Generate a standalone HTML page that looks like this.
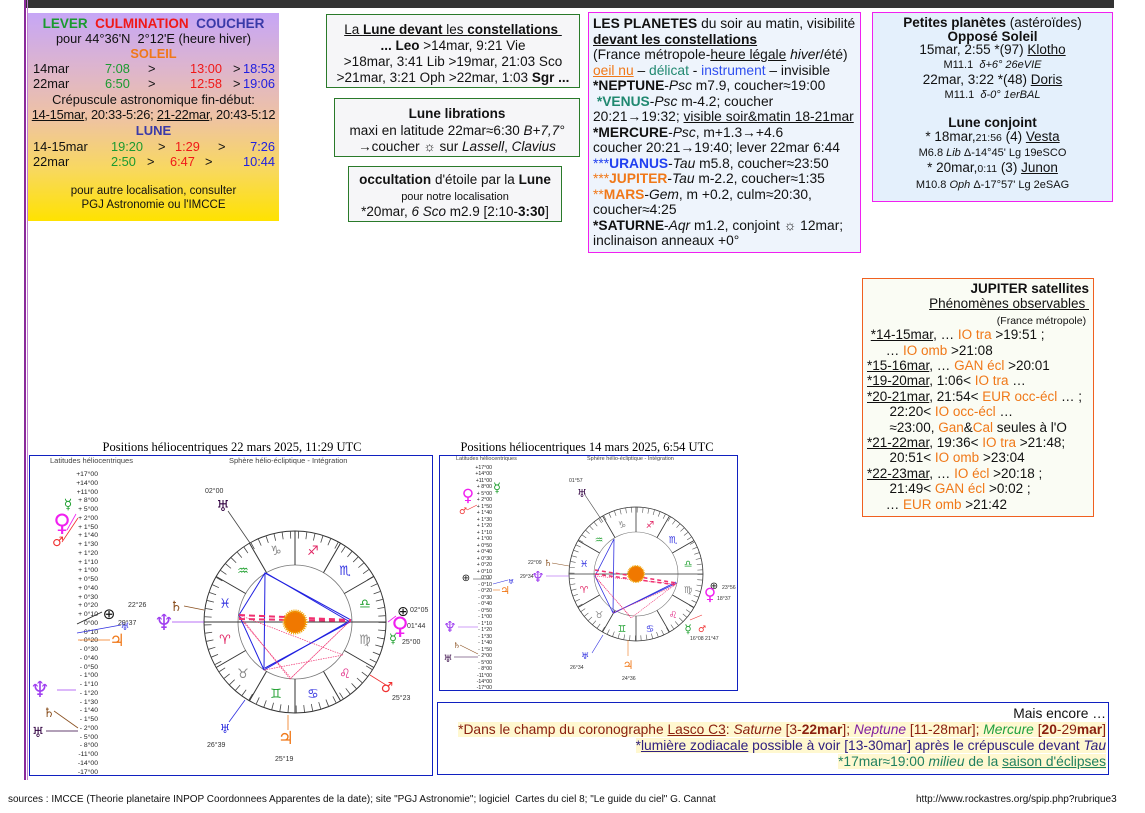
<!DOCTYPE html>
<html><head><meta charset="utf-8">
<style>
*{margin:0;padding:0;box-sizing:border-box}
body{width:1145px;height:813px;background:#fff;position:relative;overflow:hidden;font-family:"Liberation Sans","DejaVu Sans",sans-serif;color:#111}
.a{position:absolute}
.box{position:absolute}
.c{text-align:center}
b{font-weight:bold}
u{text-decoration:underline}
.or{color:#f07818}.gr{color:#1a9a30}.rd{color:#f01818}.bl{color:#2020e0}.pu{color:#3a3aa8}.tl{color:#208870}
.row{position:absolute;left:5px;right:4px;height:15px;font-size:12.8px}
.row span{position:absolute}
</style></head><body>
<div class="a" style="left:25px;top:0;width:1089px;height:8px;background:#333"></div>
<div class="a" style="left:24px;top:0;width:2px;height:780px;background:#8a2a9a"></div>
<div class="a" style="left:27px;top:0;width:1px;height:780px;background:#c080d0"></div>

<div class="box" style="left:28px;top:13px;width:251px;height:208px;background:linear-gradient(#c6a6f6 0%,#dcb4d0 25%,#eec2a4 50%,#f8d860 75%,#ffe200 100%)">
 <div class="a c" style="top:3px;left:0;width:251px;font-size:13.5px;font-weight:bold"><span class="gr">LEVER</span>&nbsp;&nbsp;<span class="rd">CULMINATION</span>&nbsp;&nbsp;<span class="pu">COUCHER</span></div>
 <div class="a c" style="top:18px;left:0;width:251px;font-size:12.8px">pour 44°36'N&nbsp; 2°12'E (heure hiver)</div>
 <div class="a c or" style="top:33px;left:0;width:251px;font-size:12.8px;font-weight:bold">SOLEIL</div>
 <div class="row" style="top:48px"><span style="left:0">14mar</span><span class="gr" style="left:72px">7:08</span><span style="left:115px">&gt;</span><span class="rd" style="left:157px">13:00</span><span style="left:200px">&gt;</span><span class="bl" style="right:0">18:53</span></div>
 <div class="row" style="top:63px"><span style="left:0">22mar</span><span class="gr" style="left:72px">6:50</span><span style="left:115px">&gt;</span><span class="rd" style="left:157px">12:58</span><span style="left:200px">&gt;</span><span class="bl" style="right:0">19:06</span></div>
 <div class="a c" style="top:79px;left:0;width:251px;font-size:12.8px">Crépuscule astronomique fin-début:</div>
 <div class="a c" style="top:94px;left:0;width:251px;font-size:12.8px;white-space:nowrap;letter-spacing:-0.2px"><u>14-15mar</u>, 20:33-5:26; <u>21-22mar</u>, 20:43-5:12</div>
 <div class="a c pu" style="top:110px;left:0;width:251px;font-size:13px;font-weight:bold">LUNE</div>
 <div class="row" style="top:126px"><span style="left:0">14-15mar</span><span class="gr" style="left:78px">19:20</span><span style="left:125px">&gt;</span><span class="rd" style="left:142px">1:29</span><span style="left:185px">&gt;</span><span class="bl" style="right:0">7:26</span></div>
 <div class="row" style="top:141px"><span style="left:0">22mar</span><span class="gr" style="left:78px">2:50</span><span style="left:114px">&gt;</span><span class="rd" style="left:137px">6:47</span><span style="left:172px">&gt;</span><span class="bl" style="right:0">10:44</span></div>
 <div class="a c" style="top:171px;left:0;width:251px;font-size:11.5px;line-height:14px">pour autre localisation, consulter<br>PGJ Astronomie ou l'IMCCE</div>
</div>

<div class="box c" style="left:326px;top:14px;width:254px;height:74px;border:1px solid #2a7a2a;background:#f6f6f8;font-size:13.5px;line-height:16px;padding-top:7px">
<u>La <b>Lune devant</b> les <b>constellations</b>&nbsp;</u><br><b>... Leo</b> &gt;14mar, 9:21 Vie<br>&gt;18mar, 3:41 Lib &gt;19mar, 21:03 Sco<br><span style="white-space:nowrap">&gt;21mar, 3:21 Oph &gt;22mar, 1:03 <b>Sgr ...</b></span></div>
<div class="box c" style="left:334px;top:98px;width:246px;height:59px;border:1px solid #2a7a2a;background:#f6f6f8;font-size:13.5px;line-height:16.5px;padding-top:7px">
<b>Lune librations</b><br>maxi en latitude 22mar≈6:30 <i>B+7,7°</i><br>→coucher ☼ sur <i>Lassell</i>, <i>Clavius</i></div>
<div class="box c" style="left:348px;top:166px;width:214px;height:56px;border:1px solid #2a7a2a;background:#f6f6f8;font-size:13.5px;padding-top:5px;line-height:16px">
<b>occultation</b> d'étoile par la <b>Lune</b><br><span style="font-size:11px;line-height:12px">pour notre localisation</span><br>*20mar, <i>6 Sco</i> m2.9 [2:10-<b>3:30</b>]</div>

<div class="box" style="left:588px;top:12px;width:273px;height:241px;border:1px solid #f020f0;background:#eef4fc;font-size:13.8px;line-height:15.5px;padding:3px 0 0 4px;white-space:nowrap">
<b>LES PLANETES</b> du soir au matin, visibilité<br><u><b>devant les constellations</b></u><br>(France métropole-<u>heure légale</u> <i>hiver</i>/été)<br><u class="or">oeil nu</u> – <span class="tl">délicat</span> - <span style="color:#3050f0">instrument</span> – invisible<br><b>*NEPTUNE</b>-<i>Psc</i> m7.9, coucher≈19:00<br>&nbsp;<b class="tl">*VENUS</b>-<i>Psc</i> m-4.2; coucher<br>20:21→19:32; <u>visible soir&amp;matin 18-21mar</u><br><b>*MERCURE</b>-<i>Psc</i>, m+1.3→+4.6<br>coucher 20:21→19:40; lever 22mar 6:44<br><b style="color:#2040f0"><span style="font-weight:normal">***</span>URANUS</b>-<i>Tau</i> m5.8, coucher≈23:50<br><b class="or"><span style="font-weight:normal">***</span>JUPITER</b>-<i>Tau</i> m-2.2, coucher≈1:35<br><b class="or"><span style="font-weight:normal">**</span>MARS</b>-<i>Gem</i>, m +0.2, culm≈20:30,<br>coucher≈4:25<br><b>*SATURNE</b>-<i>Aqr</i> m1.2, conjoint ☼ 12mar;<br>inclinaison anneaux +0°</div>

<div class="box c" style="left:872px;top:12px;width:241px;height:190px;border:1px solid #f020f0;background:#e4f0fc;padding-top:3px;font-size:13.5px;line-height:13.7px">
<b>Petites planètes</b> (astéroïdes)<br><b>Opposé Soleil</b><br>15mar, 2:55 *(97) <u>Klotho</u><br><span style="font-size:11px">M11.1&nbsp; <i>δ+6° 26eVIE</i></span><br>22mar, 3:22 *(48) <u>Doris</u><br><span style="font-size:11px">M11.1&nbsp; <i>δ-0° 1erBAL</i></span><br><br><b>Lune conjoint</b><br>* 18mar,<span style="font-size:10.5px">21:56</span> (4) <u>Vesta</u><br><span style="font-size:11px">M6.8 <i>Lib</i> Δ-14°45' Lg 19eSCO</span><br>* 20mar,<span style="font-size:10.5px">0:11</span> (3) <u>Junon</u><br><span style="font-size:11px">M10.8 <i>Oph</i> Δ-17°57' Lg 2eSAG</span></div>

<div class="box" style="left:862px;top:278px;width:232px;height:239px;border:1px solid #f06020;background:#fafcf4;font-size:13.5px;line-height:15.4px;padding:2px 4px;white-space:nowrap">
<div style="text-align:right"><b>JUPITER satellites</b><br><u>Phénomènes observables&nbsp;</u><br><span style="font-size:10.5px;line-height:12px">(France métropole)&nbsp;</span></div>
&nbsp;<u>*14-15mar</u>, … <span class="or">IO tra</span> &gt;19:51 ;<br>&nbsp;&nbsp;&nbsp;&nbsp;&nbsp;… <span class="or">IO omb</span> &gt;21:08<br><u>*15-16mar</u>, … <span class="or">GAN écl</span> &gt;20:01<br><u>*19-20mar</u>, 1:06&lt; <span class="or">IO tra</span> …<br><u>*20-21mar</u>, 21:54&lt; <span class="or">EUR occ-écl</span> … ;<br>&nbsp;&nbsp;&nbsp;&nbsp;&nbsp;&nbsp;22:20&lt; <span class="or">IO occ-écl</span> …<br>&nbsp;&nbsp;&nbsp;&nbsp;&nbsp;&nbsp;≈23:00, <span class="or">Gan</span>&amp;<span class="or">Cal</span> seules à l'O<br><u>*21-22mar</u>, 19:36&lt; <span class="or">IO tra</span> &gt;21:48;<br>&nbsp;&nbsp;&nbsp;&nbsp;&nbsp;&nbsp;20:51&lt; <span class="or">IO omb</span> &gt;23:04<br><u>*22-23mar</u>, … <span class="or">IO écl</span> &gt;20:18 ;<br>&nbsp;&nbsp;&nbsp;&nbsp;&nbsp;&nbsp;21:49&lt; <span class="or">GAN écl</span> &gt;0:02 ;<br>&nbsp;&nbsp;&nbsp;&nbsp;&nbsp;… <span class="or">EUR omb</span> &gt;21:42</div>

<div class="box" style="left:437px;top:702px;width:672px;height:73px;border:1px solid #1020c0;background:#fff;text-align:right;font-size:13.8px;line-height:16px;padding:3px 2px 0 0;white-space:nowrap">
Mais encore …<br><span style="background:#fff8d0;color:#8a2010">*Dans le champ du coronographe <u>Lasco C3</u>: <i>Saturne</i> [3-<b>22mar</b>]; <i style="color:#8020a0">Neptune</i> [11-28mar]; <i style="color:#20a040">Mercure</i> [<b>20</b>-29<b>mar</b>]</span><br><span style="background:#fff8d0;color:#302080">*<u>lumière zodiacale</u> possible à voir [13-30mar] après le crépuscule devant <i>Tau</i></span><br><span style="background:#fff8d0;color:#208060">*17mar≈19:00 <i>milieu</i> de la <u>saison d'éclipses</u></span></div>

<div class="a" style="left:8px;top:794px;font-size:10px;white-space:nowrap">sources : IMCCE (Theorie planetaire INPOP Coordonnees Apparentes de la date); site "PGJ Astronomie"; logiciel&nbsp; Cartes du ciel 8; "Le guide du ciel" G. Cannat</div>
<div class="a" style="left:916px;top:794px;font-size:10px">http://www.rockastres.org/spip.php?rubrique3</div>

<svg class="a" style="left:0;top:0" width="1145" height="813" font-family="Liberation Serif,serif">
<text x="232" y="451" font-size="12.5" text-anchor="middle">Positions héliocentriques 22 mars 2025, 11:29 UTC</text>
<rect x="29.5" y="455.5" width="403" height="320" fill="none" stroke="#1020c0"/>
<text x="587" y="451" font-size="12.5" text-anchor="middle">Positions héliocentriques 14 mars 2025, 6:54 UTC</text>
<rect x="439.5" y="455.5" width="298" height="235" fill="none" stroke="#1020c0"/>
<g font-family="Liberation Sans,sans-serif" fill="#444">
<text x="50" y="463" font-size="7.5">Latitudes héliocentriques</text>
<text x="229" y="463" font-size="7.5">Sphère hélio-écliptique - Intégration</text>
<text x="456" y="460" font-size="5.5">Latitudes héliocentriques</text>
<text x="587" y="460" font-size="5.5">Sphère hélio-écliptique - Intégration</text>
</g>
<g font-family="Liberation Sans,sans-serif" font-size="6.8" fill="#222" text-anchor="end">
<text x="98" y="476">+17°00</text><text x="98" y="485">+14°00</text><text x="98" y="494">+11°00</text><text x="98" y="502">+ 8°00</text><text x="98" y="511">+ 5°00</text><text x="98" y="520">+ 2°00</text><text x="98" y="529">+ 1°50</text><text x="98" y="537">+ 1°40</text><text x="98" y="546">+ 1°30</text><text x="98" y="555">+ 1°20</text><text x="98" y="564">+ 1°10</text><text x="98" y="572">+ 1°00</text><text x="98" y="581">+ 0°50</text><text x="98" y="590">+ 0°40</text><text x="98" y="599">+ 0°30</text><text x="98" y="607">+ 0°20</text><text x="98" y="616">+ 0°10</text><text x="98" y="625">0°00</text><text x="98" y="634">- 0°10</text><text x="98" y="642">- 0°20</text><text x="98" y="651">- 0°30</text><text x="98" y="660">- 0°40</text><text x="98" y="669">- 0°50</text><text x="98" y="677">- 1°00</text><text x="98" y="686">- 1°10</text><text x="98" y="695">- 1°20</text><text x="98" y="704">- 1°30</text><text x="98" y="712">- 1°40</text><text x="98" y="721">- 1°50</text><text x="98" y="730">- 2°00</text><text x="98" y="739">- 5°00</text><text x="98" y="747">- 8°00</text><text x="98" y="756">-11°00</text><text x="98" y="765">-14°00</text><text x="98" y="774">-17°00</text>
</g>
<g font-family="Liberation Sans,sans-serif" font-size="5.2" fill="#222" text-anchor="end">
<text x="492" y="469">+17°00</text><text x="492" y="475">+14°00</text><text x="492" y="482">+11°00</text><text x="492" y="488">+ 8°00</text><text x="492" y="495">+ 5°00</text><text x="492" y="501">+ 2°00</text><text x="492" y="508">+ 1°50</text><text x="492" y="514">+ 1°40</text><text x="492" y="521">+ 1°30</text><text x="492" y="527">+ 1°20</text><text x="492" y="534">+ 1°10</text><text x="492" y="540">+ 1°00</text><text x="492" y="547">+ 0°50</text><text x="492" y="553">+ 0°40</text><text x="492" y="560">+ 0°30</text><text x="492" y="566">+ 0°20</text><text x="492" y="573">+ 0°10</text><text x="492" y="579">0°00</text><text x="492" y="586">- 0°10</text><text x="492" y="592">- 0°20</text><text x="492" y="599">- 0°30</text><text x="492" y="605">- 0°40</text><text x="492" y="612">- 0°50</text><text x="492" y="618">- 1°00</text><text x="492" y="625">- 1°10</text><text x="492" y="631">- 1°20</text><text x="492" y="638">- 1°30</text><text x="492" y="644">- 1°40</text><text x="492" y="651">- 1°50</text><text x="492" y="657">- 2°00</text><text x="492" y="664">- 5°00</text><text x="492" y="670">- 8°00</text><text x="492" y="677">-11°00</text><text x="492" y="683">-14°00</text><text x="492" y="689">-17°00</text>
</g>

<g transform="translate(295,622)" stroke="#333" fill="none">
<circle r="91" stroke-width="1"/>
<circle r="57" stroke="#777" stroke-width="0.8"/>
<circle r="87" stroke-width="7" stroke-dasharray="0.8 7.14" stroke="#444"/>
<g stroke-width="1">
<line x1="57" x2="91" transform="rotate(30)"/><line x1="57" x2="91" transform="rotate(60)"/><line x1="57" x2="91" transform="rotate(90)"/><line x1="57" x2="91" transform="rotate(120)"/><line x1="57" x2="91" transform="rotate(150)"/><line x1="57" x2="91" transform="rotate(210)"/><line x1="57" x2="91" transform="rotate(240)"/><line x1="57" x2="91" transform="rotate(270)"/><line x1="57" x2="91" transform="rotate(300)"/><line x1="57" x2="91" transform="rotate(330)"/>
<line x1="-91" x2="91"/>
</g>
<g stroke="#2020e0" stroke-width="1"><path d="M-30,-49 L-56,-7 L-31,48 L-30,-49 L56,-2 L-31,48"/><path d="M-29,-49 L55,0 L-30,46"/></g>
<g stroke="#f03070" stroke-width="0.7" stroke-dasharray="1.5 1"><path d="M-56,-7 L-5,57 L56,-2 M-56,-7 L48,33 M-31,48 L48,33 M-5,57 L54,0 M-56,-5 L-5,55"/></g>
<g stroke="#f03070" stroke-width="2" stroke-dasharray="6 4"><line x1="-56" y1="-7" x2="56" y2="-2"/><line x1="-56" y1="-3" x2="56" y2="-1"/></g>
<circle r="11" fill="#f07800" stroke="#f0a000" stroke-width="3" stroke-dasharray="1 1"/>
</g>
<g font-family="DejaVu Sans,sans-serif" font-size="13" text-anchor="middle">
<text x="276" y="555" fill="#888">♑</text><text x="313" y="555" fill="#e02060">♐</text><text x="345" y="575" fill="#3030e0">♏</text><text x="365" y="608" fill="#20a030">♎</text><text x="365" y="644" fill="#888">♍</text><text x="345" y="678" fill="#e02080">♌</text><text x="313" y="698" fill="#3030e0">♋</text><text x="276" y="698" fill="#20a030">♊</text><text x="243" y="678" fill="#888">♉</text><text x="225" y="644" fill="#e02060">♈</text><text x="225" y="608" fill="#3030e0">♓</text><text x="243" y="575" fill="#20a030">♒</text>
</g>
<g stroke-width="0.8" fill="none">
<line x1="228" y1="511" x2="250" y2="543" stroke="#444"/>
<line x1="184" y1="606" x2="204" y2="610" stroke="#8a5020"/>
<line x1="172" y1="622" x2="204" y2="622" stroke="#a040f0"/>
<line x1="370" y1="675" x2="386" y2="685" stroke="#f03030"/>
<line x1="245" y1="700" x2="229" y2="722" stroke="#3030e0"/>
<line x1="288" y1="715" x2="288" y2="730" stroke="#f07818"/>
<line x1="388" y1="622" x2="396" y2="616" stroke="#f020f0"/>
<line x1="76" y1="514" x2="67" y2="530" stroke="#f020f0"/><line x1="78" y1="518" x2="62" y2="542" stroke="#f03030"/>
<line x1="77" y1="624" x2="102" y2="612" stroke="#222"/><line x1="77" y1="633" x2="121" y2="625" stroke="#3030e0"/><line x1="78" y1="640" x2="110" y2="640" stroke="#f07818"/>
<line x1="57" y1="690" x2="76" y2="690" stroke="#a040f0"/><line x1="54" y1="711" x2="78" y2="728" stroke="#8a5020"/><line x1="46" y1="731" x2="78" y2="731" stroke="#300040"/>
</g>
<g font-family="DejaVu Sans,sans-serif" text-anchor="middle">
<text x="223" y="511" font-size="15" fill="#300040">♅</text>
<text x="176" y="611" font-size="14" fill="#8a5020">♄</text>
<text x="164" y="630" font-size="22" fill="#a040f0">♆</text>
<text x="403" y="616" font-size="14" fill="#111">⊕</text>
<text x="400" y="634" font-size="24" fill="#f020f0">♀</text>
<text x="393" y="643" font-size="13" fill="#20a030">☿</text>
<text x="387" y="692" font-size="14" fill="#f03030">♂</text>
<text x="225" y="733" font-size="12" fill="#3030e0">♅</text>
<text x="286" y="744" font-size="18" fill="#f07818" font-weight="bold">♃</text>
<text x="68" y="509" font-size="14" fill="#20a030">☿</text>
<text x="62" y="531" font-size="24" fill="#f020f0">♀</text>
<text x="58" y="546" font-size="13" fill="#f03030">♂</text>
<text x="109" y="619" font-size="15" fill="#111">⊕</text>
<text x="125" y="630" font-size="10" fill="#3030e0">♅</text>
<text x="117" y="646" font-size="17" fill="#f07818" font-weight="bold">♃</text>
<text x="40" y="697" font-size="22" fill="#a040f0">♆</text>
<text x="49" y="717" font-size="13" fill="#8a5020">♄</text>
<text x="38" y="737" font-size="14" fill="#300040">♅</text>
</g>
<g font-family="Liberation Sans,sans-serif" font-size="7" fill="#333">
<text x="205" y="493">02°00</text><text x="128" y="607">22°26</text><text x="118" y="625">29°37</text>
<text x="410" y="612">02°05</text><text x="407" y="628">01°44</text><text x="402" y="644">25°00</text>
<text x="392" y="700">25°23</text><text x="207" y="747">26°39</text><text x="275" y="761">25°19</text>
</g>

<g transform="translate(636,574)" stroke="#333" fill="none">
<circle r="67" stroke-width="0.8"/>
<circle r="42" stroke="#777" stroke-width="0.6"/>
<circle r="64" stroke-width="5" stroke-dasharray="0.6 5.0" stroke="#555"/>
<g stroke-width="0.8">
<line x1="42" x2="67" transform="rotate(30)"/><line x1="42" x2="67" transform="rotate(60)"/><line x1="42" x2="67" transform="rotate(90)"/><line x1="42" x2="67" transform="rotate(120)"/><line x1="42" x2="67" transform="rotate(150)"/><line x1="42" x2="67" transform="rotate(210)"/><line x1="42" x2="67" transform="rotate(240)"/><line x1="42" x2="67" transform="rotate(270)"/><line x1="42" x2="67" transform="rotate(300)"/><line x1="42" x2="67" transform="rotate(330)"/>
<line x1="-67" x2="67"/>
</g>
<g stroke="#3030e0" stroke-width="0.8"><path d="M-22,-35 L-41,2 L-23,39 L-22,-35 M-23,39 L41,9 M-41,2 L-22,-35"/><path d="M-22,39 L40,8"/></g>
<g stroke="#f03070" stroke-width="0.6" stroke-dasharray="1.2 0.8"><path d="M-41,2 L-5,44 L41,9 M-41,2 L40,10 M-23,39 L38,12 M-40,4 L-6,42"/></g>
<g stroke="#f03070" stroke-width="1.5" stroke-dasharray="4 3"><line x1="-41" y1="-4" x2="41" y2="9"/><line x1="-41" y1="0" x2="41" y2="11"/></g>
<circle r="8" fill="#f07800" stroke="#f0a000" stroke-width="2" stroke-dasharray="0.8 0.8"/>
</g>
<g font-family="DejaVu Sans,sans-serif" font-size="9.5" text-anchor="middle">
<text x="622" y="528" fill="#888">♑</text><text x="650" y="528" fill="#e02060">♐</text><text x="673" y="543" fill="#3030e0">♏</text><text x="688" y="567" fill="#20a030">♎</text><text x="688" y="593" fill="#888">♍</text><text x="673" y="618" fill="#e02080">♌</text><text x="650" y="632" fill="#3030e0">♋</text><text x="622" y="632" fill="#20a030">♊</text><text x="599" y="618" fill="#888">♉</text><text x="584" y="593" fill="#e02060">♈</text><text x="584" y="567" fill="#3030e0">♓</text><text x="599" y="543" fill="#20a030">♒</text>
</g>
<g stroke-width="0.6" fill="none">
<line x1="585" y1="495" x2="603" y2="522" stroke="#444"/>
<line x1="552" y1="563" x2="569" y2="566" stroke="#8a5020"/>
<line x1="546" y1="576" x2="569" y2="576" stroke="#a040f0"/>
<line x1="592" y1="653" x2="603" y2="635" stroke="#3030e0"/>
<line x1="628" y1="640" x2="628" y2="656" stroke="#f07818"/>
<line x1="690" y1="620" x2="702" y2="615" stroke="#f03030"/>
<line x1="473" y1="579" x2="491" y2="579" stroke="#222"/><line x1="493" y1="584" x2="508" y2="580" stroke="#3030e0"/><line x1="493" y1="590" x2="500" y2="590" stroke="#f07818"/>
<line x1="458" y1="627" x2="478" y2="627" stroke="#a040f0"/><line x1="460" y1="645" x2="478" y2="654" stroke="#8a5020"/><line x1="454" y1="657" x2="478" y2="657" stroke="#300040"/>
<line x1="467" y1="510" x2="477" y2="505" stroke="#f03030"/>
</g>
<g font-family="DejaVu Sans,sans-serif" text-anchor="middle">
<text x="582" y="497" font-size="11" fill="#300040">♅</text>
<text x="548" y="566" font-size="9" fill="#8a5020">♄</text>
<text x="538" y="582" font-size="15" fill="#a040f0">♆</text>
<text x="714" y="589" font-size="10" fill="#111">⊕</text>
<text x="710" y="600" font-size="17" fill="#f020f0">♀</text>
<text x="688" y="633" font-size="12" fill="#20a030">☿</text>
<text x="702" y="632" font-size="9" fill="#f03030">♂</text>
<text x="585" y="659" font-size="9" fill="#3030e0">♅</text>
<text x="628" y="669" font-size="12" fill="#f07818" font-weight="bold">♃</text>
<text x="497" y="492" font-size="13" fill="#20a030">☿</text>
<text x="468" y="501" font-size="17" fill="#f020f0">♀</text>
<text x="463" y="514" font-size="9" fill="#f03030">♂</text>
<text x="466" y="581" font-size="10" fill="#111">⊕</text>
<text x="511" y="584" font-size="7" fill="#3030e0">♅</text>
<text x="505" y="594" font-size="11" fill="#f07818" font-weight="bold">♃</text>
<text x="450" y="632" font-size="15" fill="#a040f0">♆</text>
<text x="457" y="648" font-size="8" fill="#8a5020">♄</text>
<text x="448" y="662" font-size="10" fill="#300040">♅</text>
</g>
<g font-family="Liberation Sans,sans-serif" font-size="5.2" fill="#333">
<text x="569" y="482">01°57</text><text x="528" y="564">22°09</text><text x="520" y="578">29°34</text>
<text x="722" y="589">23°56</text><text x="717" y="600">18°37</text><text x="690" y="640">16°08 21°47</text>
<text x="570" y="669">26°34</text><text x="622" y="680">24°36</text>
</g>
</svg>
</body></html>
